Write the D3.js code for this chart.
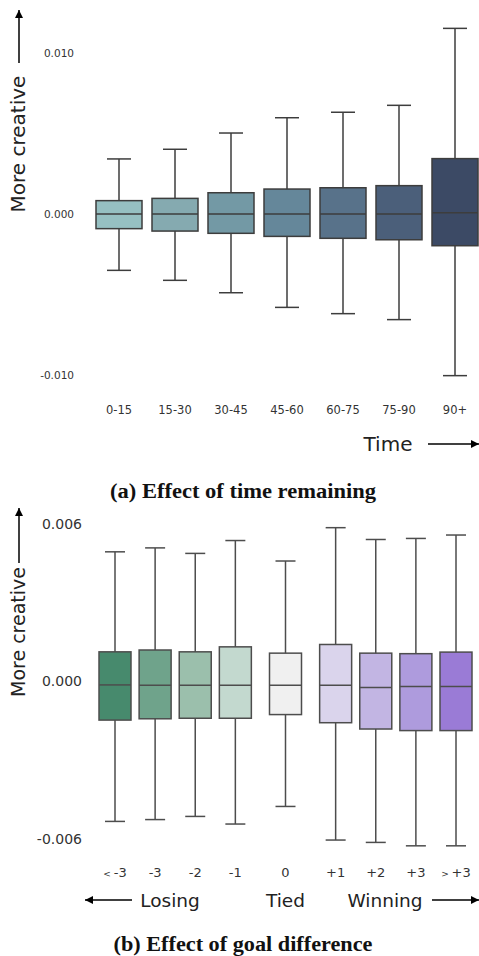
<!DOCTYPE html>
<html lang="en">
<head>
<meta charset="utf-8" />
<title>Creativity boxplots</title>
<style>
  body { margin: 0; padding: 0; background: #fff; }
  text { font-family: 'DejaVu Sans', sans-serif; }
  .cap { font-family: 'Liberation Serif', serif; font-weight: bold; }
</style>
<script src="https://d3js.org/d3.v7.min.js"></script>
</head>
<body>
<div id="chart"></div>
<script>
// ---- panel (a): time remaining ----
const timeCats = ["0-15", "15-30", "30-45", "45-60", "60-75", "75-90", "90+"];
const timeLow    = [-0.00350, -0.00412, -0.00489, -0.00580, -0.00619, -0.00656, -0.01004];
const timeQ1     = [-0.00091, -0.00106, -0.00120, -0.00139, -0.00151, -0.00160, -0.00197];
const timeMedian = [0.00000, 0.00000, 0.00000, 0.00000, 0.00000, 0.00000, 0.00008];
const timeQ3     = [0.00083, 0.00097, 0.00132, 0.00155, 0.00163, 0.00176, 0.00344];
const timeHigh   = [0.00342, 0.00402, 0.00503, 0.00598, 0.00632, 0.00675, 0.01153];
const timeColors = ["#96c0c2", "#85aab0", "#7399a5", "#65879a", "#58728a", "#4b5f7a", "#3c4a65"];
const timeTicks  = [-0.01, 0, 0.01];

// ---- panel (b): goal difference ----
const goalCats   = ["< -3", "-3", "-2", "-1", "0", "+1", "+2", "+3", "> +3"];
const goalGroup  = [0, 0, 0, 0, 1, 2, 2, 2, 2];
const goalLow    = [-0.00533, -0.00526, -0.00514, -0.00543, -0.00476, -0.00604, -0.00613, -0.00626, -0.00626];
const goalQ1     = [-0.00147, -0.00142, -0.00140, -0.00140, -0.00126, -0.00157, -0.00181, -0.00187, -0.00187];
const goalMedian = [-0.00013, -0.00014, -0.00014, -0.00014, -0.00014, -0.00014, -0.00023, -0.00019, -0.00019];
const goalQ3     = [0.00113, 0.00120, 0.00113, 0.00132, 0.00108, 0.00141, 0.00108, 0.00106, 0.00112];
const goalHigh   = [0.00494, 0.00509, 0.00488, 0.00537, 0.00459, 0.00586, 0.00541, 0.00545, 0.00558];
const goalColors = ["#478a6d", "#6fa38b", "#9bbfac", "#c3d9cf", "#f0f0f0", "#dad4ec", "#c2b5e3", "#ae9bdd", "#9a7bd6"];
const goalTicks  = [-0.006, 0, 0.006];
const groupNames = ["Losing", "Tied", "Winning"];

const W = 479, H = 956;
const svg = d3.select("#chart").append("svg").attr("width", W).attr("height", H);

svg.append("defs").append("marker")
  .attr("id", "head")
  .attr("viewBox", "0 0 10 10")
  .attr("refX", 10).attr("refY", 5)
  .attr("markerWidth", 10).attr("markerHeight", 8)
  .attr("markerUnits", "userSpaceOnUse")
  .attr("orient", "auto")
  .append("path").attr("d", "M0,0L10,5L0,10Z").attr("fill", "#000");

const fmt = d => d3.format(".3f")(d).replace("\u2212", "-");

function drawBoxes(g, rows, x, y, boxW, capW, stroke) {
  const b = g.selectAll("g.box").data(rows).enter().append("g").attr("class", "box");
  b.append("line")
    .attr("x1", d => x(d)).attr("x2", d => x(d))
    .attr("y1", d => y(d.high)).attr("y2", d => y(d.low))
    .attr("stroke", stroke).attr("stroke-width", 1.5);
  b.selectAll("line.capl").data(d => [[d, d.high], [d, d.low]]).enter().append("line")
    .attr("x1", p => x(p[0]) - capW / 2).attr("x2", p => x(p[0]) + capW / 2)
    .attr("y1", p => y(p[1])).attr("y2", p => y(p[1]))
    .attr("stroke", stroke).attr("stroke-width", 1.5);
  b.append("rect")
    .attr("x", d => x(d) - boxW / 2).attr("width", boxW)
    .attr("y", d => y(d.q3)).attr("height", d => y(d.q1) - y(d.q3))
    .attr("fill", d => d.color).attr("stroke", stroke).attr("stroke-width", 1.5);
  b.append("line")
    .attr("x1", d => x(d) - boxW / 2).attr("x2", d => x(d) + boxW / 2)
    .attr("y1", d => y(d.median)).attr("y2", d => y(d.median))
    .attr("stroke", stroke).attr("stroke-width", 1.5);
}

function yAxis(g, y, ticks, xEnd, size) {
  const ax = g.append("g").attr("transform", `translate(${xEnd},0)`)
    .call(d3.axisLeft(y).tickValues(ticks).tickSize(0).tickPadding(0).tickFormat(fmt));
  ax.select(".domain").remove();
  ax.selectAll("text").attr("font-family", "'DejaVu Sans', sans-serif")
    .attr("font-size", size).attr("fill", "#333");
}

// ================= panel (a) =================
const ga = svg.append("g");
const ya = d3.scaleLinear().domain([-0.01, 0.01]).range([375, 53]);
const xa = d3.scalePoint().domain(timeCats).range([119, 455]);
const rowsA = timeCats.map((c, i) => ({
  cat: c, low: timeLow[i], q1: timeQ1[i], median: timeMedian[i], q3: timeQ3[i], high: timeHigh[i], color: timeColors[i]
}));
drawBoxes(ga, rowsA, d => xa(d.cat), ya, 46, 24, "#3d3d3d");
yAxis(ga, ya, timeTicks, 74, 10.5);

ga.append("g").attr("transform", "translate(0,414)")
  .selectAll("text").data(timeCats).enter().append("text")
  .attr("x", d => xa(d)).attr("text-anchor", "middle")
  .attr("font-size", 11.5).attr("fill", "#333").text(d => d);

ga.append("text").attr("transform", "translate(25,144) rotate(-90)")
  .attr("text-anchor", "middle").attr("font-size", 20).attr("fill", "#222").text("More creative");
ga.append("line").attr("x1", 19).attr("x2", 19).attr("y1", 63).attr("y2", 10)
  .attr("stroke", "#000").attr("stroke-width", 1.5).attr("marker-end", "url(#head)");

ga.append("text").attr("x", 388).attr("y", 451).attr("text-anchor", "middle")
  .attr("font-size", 20).attr("fill", "#222").text("Time");
ga.append("line").attr("x1", 428).attr("x2", 479).attr("y1", 444).attr("y2", 444)
  .attr("stroke", "#000").attr("stroke-width", 1.5).attr("marker-end", "url(#head)");

ga.append("text").attr("class", "cap").attr("x", 243).attr("y", 498)
  .attr("text-anchor", "middle").attr("font-size", 20).attr("fill", "#111")
  .attr("textLength", 266).attr("lengthAdjust", "spacingAndGlyphs")
  .text("(a) Effect of time remaining");

// ================= panel (b) =================
const gb = svg.append("g");
const yb = d3.scaleLinear().domain([-0.006, 0.006]).range([839, 524]);
const groupGap = 0.25;
const slot = goalCats.map((c, i) => i + groupGap * goalGroup[i]);
const xb = d3.scaleLinear().domain([0, 8.5]).range([115, 456]);
const rowsB = goalCats.map((c, i) => ({
  cat: c, slot: slot[i], low: goalLow[i], q1: goalQ1[i], median: goalMedian[i], q3: goalQ3[i], high: goalHigh[i], color: goalColors[i]
}));
drawBoxes(gb, rowsB, d => xb(d.slot), yb, 32, 20, "#4d4d4d");
yAxis(gb, yb, goalTicks, 82, 14);

const tl = gb.append("g").attr("transform", "translate(0,877)")
  .selectAll("text").data(rowsB).enter().append("text")
  .attr("x", d => xb(d.slot)).attr("text-anchor", "middle")
  .attr("font-size", 13).attr("fill", "#333");
tl.each(function(d) {
  const t = d3.select(this);
  if (d.cat[0] === "<" || d.cat[0] === ">") {
    t.append("tspan").attr("font-size", 9).text(d.cat[0] + " ");
    t.append("tspan").text(d.cat.slice(2));
  } else {
    t.text(d.cat);
  }
});

gb.append("text").attr("transform", "translate(25,632) rotate(-90)")
  .attr("text-anchor", "middle").attr("font-size", 19).attr("fill", "#222").text("More creative");
gb.append("line").attr("x1", 19).attr("x2", 19).attr("y1", 563).attr("y2", 508)
  .attr("stroke", "#000").attr("stroke-width", 1.5).attr("marker-end", "url(#head)");

const groupLabelX = [170, xb(slot[4]), 385];
gb.selectAll("text.grp").data(groupNames).enter().append("text").attr("class", "grp")
  .attr("x", (d, i) => groupLabelX[i]).attr("y", 907).attr("text-anchor", "middle")
  .attr("font-size", 18.5).attr("fill", "#222").text(d => d);
gb.append("line").attr("x1", 132).attr("x2", 85).attr("y1", 900).attr("y2", 900)
  .attr("stroke", "#000").attr("stroke-width", 1.5).attr("marker-end", "url(#head)");
gb.append("line").attr("x1", 432).attr("x2", 479).attr("y1", 900).attr("y2", 900)
  .attr("stroke", "#000").attr("stroke-width", 1.5).attr("marker-end", "url(#head)");

gb.append("text").attr("class", "cap").attr("x", 243).attr("y", 951)
  .attr("text-anchor", "middle").attr("font-size", 20).attr("fill", "#111")
  .attr("textLength", 259).attr("lengthAdjust", "spacingAndGlyphs")
  .text("(b) Effect of goal difference");
</script>
</body>
</html>
